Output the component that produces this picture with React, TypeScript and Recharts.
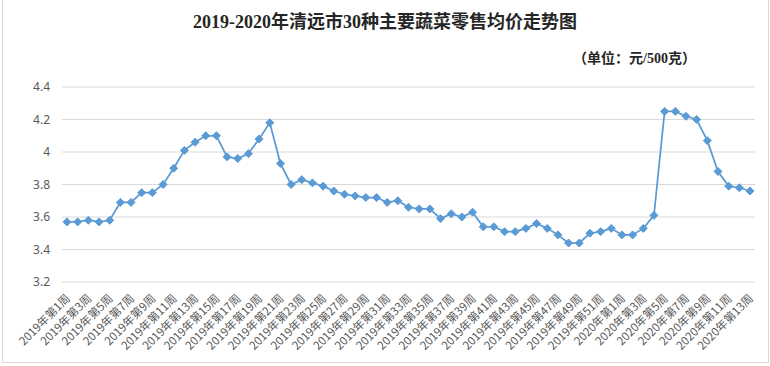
import React from 'react';
import { LineChart, Line, XAxis, YAxis, CartesianGrid } from 'recharts';

const weeks2019 = Array.from({ length: 52 }, (_, i) => `2019年第${i + 1}周`);
const weeks2020 = Array.from({ length: 13 }, (_, i) => `2020年第${i + 1}周`);
const categories = [...weeks2019, ...weeks2020];

const prices2019 = [
  3.57, 3.57, 3.58, 3.57, 3.58, 3.69, 3.69, 3.75, 3.75, 3.8,
  3.9, 4.01, 4.06, 4.1, 4.1, 3.97, 3.96, 3.99, 4.08, 4.18,
  3.93, 3.8, 3.83, 3.81, 3.79, 3.76, 3.74, 3.73, 3.72, 3.72,
  3.69, 3.7, 3.66, 3.65, 3.65, 3.59, 3.62, 3.6, 3.63, 3.54,
  3.54, 3.51, 3.51, 3.53, 3.56, 3.53, 3.49, 3.44, 3.44, 3.5,
  3.51, 3.53,
];
const prices2020 = [3.49, 3.49, 3.53, 3.61, 4.25, 4.25, 4.22, 4.2, 4.07, 3.88, 3.79, 3.78, 3.76];
const prices = [...prices2019, ...prices2020];

const yTicks = [3.2, 3.4, 3.6, 3.8, 4, 4.2, 4.4];

const data = categories.map((week, i) => ({ week, price: prices[i] }));

const BLUE = '#5B9BD5';

const Diamond = (props: any) => {
  const { cx, cy } = props;
  if (cx == null || cy == null) return null;
  const r = 4;
  return <path d={`M${cx},${cy - r}L${cx + r},${cy}L${cx},${cy + r}L${cx - r},${cy}Z`} fill={BLUE} stroke={BLUE} strokeWidth={1} />;
};

const WeekTick = (props: any) => {
  const { x, y, payload } = props;
  return (
    <text
      x={x + 4}
      y={y + 9}
      transform={`rotate(-45, ${x + 4}, ${y + 9})`}
      textAnchor="end"
      fontSize={11.5}
      fill="#595959"
      fontFamily="'Noto Sans CJK SC', sans-serif"
    >
      {payload.value}
    </text>
  );
};

export default function App() {
  return (
    <div style={{ position: 'fixed', left: 0, top: 0, width: 770, height: 366, background: '#fff' }}>
      <div
        style={{
          position: 'absolute',
          left: 2,
          top: 0,
          width: 765,
          height: 362,
          border: '1px solid #d9d9d9',
          borderTop: 'none',
        }}
      />
      <div
        style={{
          position: 'absolute',
          left: 0,
          top: 7,
          width: 770,
          textAlign: 'center',
          fontFamily: "'Liberation Serif', 'Noto Sans CJK SC', serif",
          fontWeight: 'bold',
          fontSize: 18,
          color: '#262626',
        }}
      >
        2019-2020年清远市30种主要蔬菜零售均价走势图
      </div>
      <div
        style={{
          position: 'absolute',
          left: 573,
          top: 47,
          fontFamily: "'Liberation Serif', 'Noto Sans CJK SC', serif",
          fontWeight: 'bold',
          fontSize: 14,
          color: '#262626',
        }}
      >
        （单位：元/500克）
      </div>
      <div style={{ position: 'absolute', left: 0, top: 0 }}>
        <LineChart width={770} height={366} data={data} margin={{ top: 87, right: 15, bottom: 0, left: 0 }}>
          <CartesianGrid vertical={false} stroke="#d9d9d9" strokeWidth={1} />
          <XAxis
            dataKey="week"
            interval={1}
            tick={<WeekTick />}
            tickLine={false}
            axisLine={false}
            padding={{ left: 5, right: 5 }}
            height={84}
          />
          <YAxis
            domain={[3.2, 4.4]}
            ticks={yTicks}
            interval={0}
            width={62}
            tickLine={false}
            axisLine={false}
            tickSize={0}
            tickMargin={12}
            tick={{ fontSize: 12, fill: '#595959', fontFamily: "'Noto Sans', sans-serif" }}
          />
          <Line
            type="linear"
            dataKey="price"
            stroke={BLUE}
            strokeWidth={1.75}
            dot={<Diamond />}
            activeDot={false}
            isAnimationActive={false}
          />
        </LineChart>
      </div>
    </div>
  );
}
